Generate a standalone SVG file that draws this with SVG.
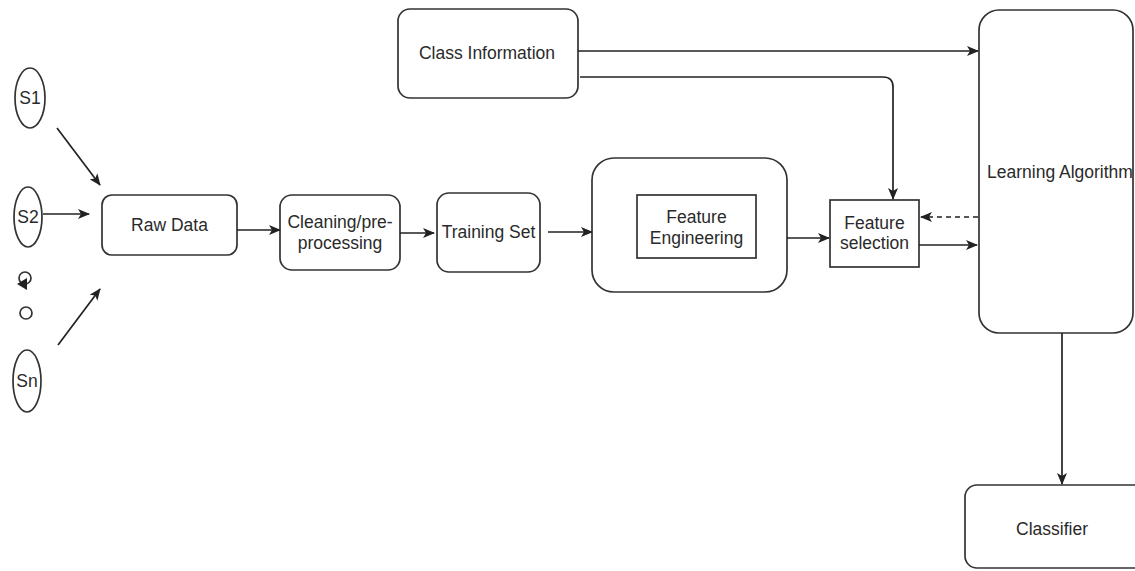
<svg xmlns="http://www.w3.org/2000/svg" width="1135" height="571" viewBox="0 0 1135 571">
<style>
.box{fill:#fff;stroke:#333;stroke-width:1.7}
.ln{fill:none;stroke:#222;stroke-width:1.7}
.dash{stroke-dasharray:5 4}
text{font-family:"Liberation Sans",Arial,sans-serif;font-size:17.5px;fill:#2a2a2a;text-anchor:middle}
</style>
<defs>
<marker id="ah" viewBox="0 0 12 10" refX="11" refY="5" markerWidth="12" markerHeight="10" markerUnits="userSpaceOnUse" orient="auto">
<path d="M0,0 L12,5 L0,10 L3,5 Z" fill="#222"/>
</marker>
</defs>
<rect width="1135" height="571" fill="#fff"/>
<g id="s1"><ellipse class="box" cx="30" cy="98" rx="15" ry="30"/><text x="30" y="104">S1</text></g>
<g id="s2"><ellipse class="box" cx="28" cy="217" rx="14" ry="30"/><text x="28" y="223">S2</text></g>
<g id="dots">
<circle class="box" cx="25" cy="278" r="6"/>
<path d="M17,284 L27,278 L27,290 Z" fill="#222"/>
<circle class="box" cx="26" cy="313" r="6"/>
</g>
<g id="sn"><ellipse class="box" cx="27" cy="381" rx="14" ry="31"/><text x="27" y="387">Sn</text></g>
<g id="raw"><rect class="box" x="102" y="195" width="135" height="60" rx="10"/><text x="169.5" y="231">Raw Data</text></g>
<g id="clean"><rect class="box" x="280" y="195" width="120" height="75" rx="12"/><text x="340" y="228">Cleaning/pre-</text><text x="340" y="249">processing</text></g>
<g id="train"><rect class="box" x="437" y="193" width="103" height="79" rx="12"/><text x="488.5" y="238">Training Set</text></g>
<g id="fe"><rect class="box" x="592" y="158" width="195" height="134" rx="22"/><rect class="box" x="637" y="195" width="119" height="63"/><text x="696.5" y="223">Feature</text><text x="696.5" y="244">Engineering</text></g>
<g id="fs"><rect class="box" x="830" y="200" width="89" height="67"/><text x="874.5" y="229">Feature</text><text x="874.5" y="249">selection</text></g>
<g id="classinfo"><rect class="box" x="398" y="9" width="180" height="89" rx="12"/><text x="487" y="59">Class Information</text></g>
<g id="la"><rect class="box" x="979" y="10" width="154" height="323" rx="20"/><text x="987" y="178" style="text-anchor:start">Learning Algorithm</text></g>
<g id="classifier"><rect class="box" x="965" y="485" width="185" height="83" rx="12"/><text x="1052" y="535">Classifier</text></g>
<g id="connectors">
<path class="ln" d="M57,128 L100,185" marker-end="url(#ah)"/>
<path class="ln" d="M43,214 L89,214" marker-end="url(#ah)"/>
<path class="ln" d="M58,345 L100,289" marker-end="url(#ah)"/>
<path class="ln" d="M237,230 L280,230" marker-end="url(#ah)"/>
<path class="ln" d="M400,233 L434,233" marker-end="url(#ah)"/>
<path class="ln" d="M548,232 L592,232" marker-end="url(#ah)"/>
<path class="ln" d="M787,238 L829,238" marker-end="url(#ah)"/>
<path class="ln" d="M919,245 L977,245" marker-end="url(#ah)"/>
<path class="ln dash" d="M978,217 L921,217" marker-end="url(#ah)"/>
<path class="ln" d="M578,51 L978,51" marker-end="url(#ah)"/>
<path class="ln" d="M580,77 H883 Q893,77 893,87 V199" marker-end="url(#ah)"/>
<path class="ln" d="M1062,333 L1062,484" marker-end="url(#ah)"/>
</g>
</svg>
